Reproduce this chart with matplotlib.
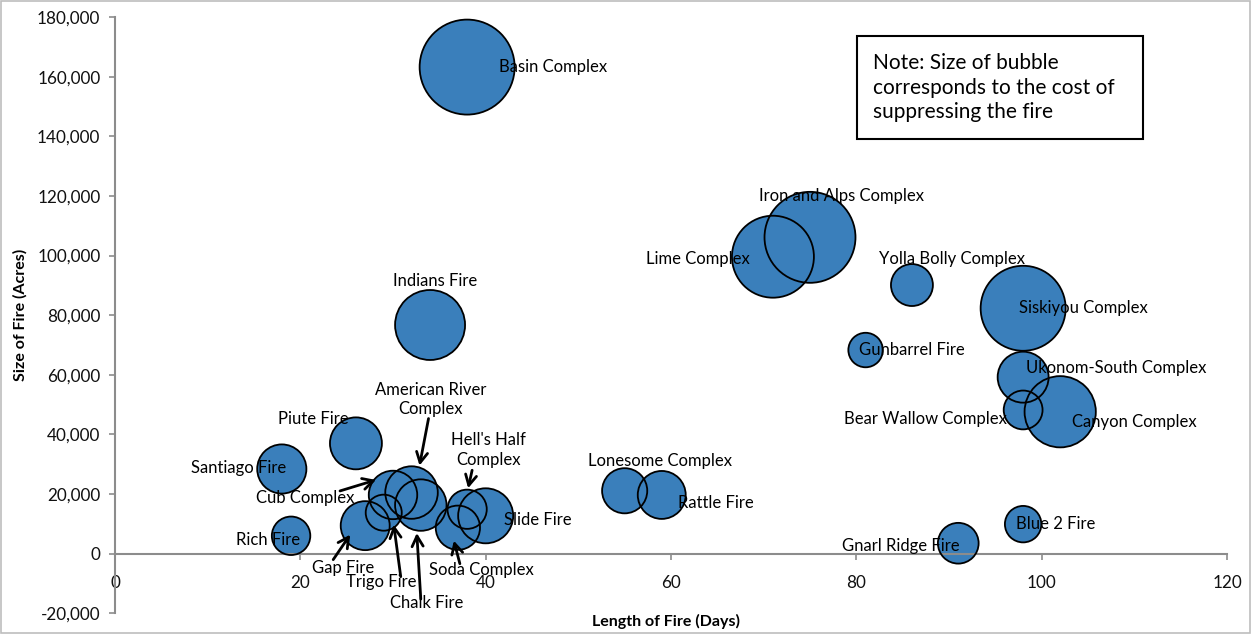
import numpy as np
import matplotlib
matplotlib.use("Agg")
import matplotlib.pyplot as plt
from matplotlib.transforms import offset_copy
from matplotlib.ticker import FuncFormatter
from matplotlib.patches import Rectangle

plt.rcParams['font.family'] = ['Lato', 'DejaVu Sans']

# fire data
names = ["Basin Complex", "Indians Fire", "Iron and Alps Complex", "Lime Complex",
         "Yolla Bolly Complex", "Siskiyou Complex", "Gunbarrel Fire",
         "Ukonom-South Complex", "Bear Wallow Complex", "Canyon Complex",
         "Lonesome Complex", "Rattle Fire", "Blue 2 Fire", "Gnarl Ridge Fire",
         "Piute Fire", "Santiago Fire", "Rich Fire", "Gap Fire", "Cub Complex",
         "Trigo Fire", "American River\nComplex", "Chalk Fire",
         "Hell's Half\nComplex", "Slide Fire", "Soda Complex"]
days = [38, 34, 75, 71, 86, 98, 81, 98, 98, 102, 55, 59, 98, 91,
        26, 18, 19, 27, 30, 29, 32, 33, 38, 40, 37]
acres = [163200, 76700, 106100, 99600, 90100, 82300, 68300, 59200, 48200, 47600,
         21100, 19700, 9900, 3500, 37000, 28400, 6000, 9400, 19700, 13750,
         20500, 16300, 14900, 12700, 8700]
# relative suppression cost (bubble area)
cost = [90.3, 49.0, 82.8, 67.2, 17.6, 72.3, 11.9, 26.0, 15.1, 50.8,
        20.4, 23.0, 13.3, 16.6, 27.0, 24.2, 14.8, 24.0, 23.5, 13.0,
        27.6, 26.5, 15.4, 30.3, 19.6]

xticks = [0, 20, 40, 60, 80, 100, 120]
yticks = list(range(-20000, 180001, 20000))

# label placement, pixels from bubble centre (right, down)
lab_off = {
    "Basin Complex": (86, 0), "Indians Fire": (5, -44),
    "Iron and Alps Complex": (32, -41), "Lime Complex": (-75, 2),
    "Yolla Bolly Complex": (40, -26), "Siskiyou Complex": (60, 0),
    "Gunbarrel Fire": (46, 0), "Ukonom-South Complex": (93, -9),
    "Bear Wallow Complex": (-98, 9), "Canyon Complex": (74, 10),
    "Lonesome Complex": (35, -30), "Rattle Fire": (54, 8),
    "Blue 2 Fire": (33, 0), "Gnarl Ridge Fire": (-57, 3),
    "Piute Fire": (-43, -24), "Santiago Fire": (-43, -1),
    "Rich Fire": (-23, 4), "Slide Fire": (52, 4),
    "American River\nComplex": (19, -93), "Hell's Half\nComplex": (21, -59),
    "Cub Complex": (-88, 3), "Gap Fire": (-22, 42), "Trigo Fire": (-2, 69),
    "Chalk Fire": (6, 98), "Soda Complex": (24, 42),
}
# arrows: tail and head, pixels from bubble centre
arrows = {
    "American River\nComplex": ((17, -74), (8, -27)),
    "Hell's Half\nComplex": ((5, -39), (1, -21)),
    "Cub Complex": ((-53, -4), (-17, -15)),
    "Gap Fire": ((-32, 34), (-15, 9)),
    "Trigo Fire": ((17, 64), (10, 12)),
    "Chalk Fire": ((0, 94), (-4, 28)),
    "Soda Complex": ((2, 36), (-4, 13)),
}

W, H = 1251, 634
fig = plt.figure(figsize=(W / 100, H / 100), dpi=100)
ax = fig.add_axes([115 / W, 1 - 613.3 / H, 1112 / W, 596.3 / H])

c = np.array(cost)
s = (95 * 0.72) ** 2 * c / c.max()
ax.scatter(days, acres, s=s, color='#3a7fbb', edgecolors='none', zorder=2)
ax.scatter(days, acres, s=s, facecolors='none', edgecolors='black', linewidths=1.3, zorder=3)

for n, x, y in zip(names, days, acres):
    dx, dy = lab_off[n]
    ax.annotate(n, (x, y), xytext=(dx, -dy), textcoords='offset pixels',
                ha='center', va='center', fontsize=12, linespacing=1.3,
                multialignment='center', zorder=4)
    if n in arrows:
        (tx, ty), (hx, hy) = arrows[n]
        ax.annotate('', xy=(x, y),
                    xycoords=offset_copy(ax.transData, fig=fig, x=hx, y=-hy, units='dots'),
                    xytext=(x, y),
                    textcoords=offset_copy(ax.transData, fig=fig, x=tx, y=-ty, units='dots'),
                    arrowprops=dict(arrowstyle='->,head_length=0.75,head_width=0.4',
                                    lw=2.0, color='black', shrinkA=0, shrinkB=0),
                    zorder=5)

ax.set_xlim(0, 120)
ax.set_ylim(-20000, 180000)
ax.set_xticks(xticks)
ax.set_yticks(yticks)
ax.yaxis.set_major_formatter(FuncFormatter(lambda v, p: f"{int(v):,}"))
for sp in ['top', 'right']:
    ax.spines[sp].set_visible(False)
ax.spines['bottom'].set_position(('data', 0))
for sp in ['left', 'bottom']:
    ax.spines[sp].set_color('#8c8c8c')
    ax.spines[sp].set_linewidth(1.5)
ax.tick_params(axis='both', direction='out', length=4.5, width=1.2, color='#8c8c8c',
               labelsize=12.3, labelcolor='#111111')
ax.tick_params(axis='x', pad=11)
ax.tick_params(axis='y', pad=6)
ax.patch.set_visible(False)

fig.text(666 / W, 1 - 621.5 / H, "Length of Fire (Days)", ha='center', va='center',
         fontsize=11.5, fontweight='bold')
fig.text(20 / W, 1 - 315 / H, "Size of Fire (Acres)", ha='center', va='center',
         rotation=90, fontsize=11.5, fontweight='bold')

# note box
fig.patches.append(Rectangle((857 / W, 1 - 139 / H), 286 / W, 103 / H, transform=fig.transFigure,
                             facecolor='white', edgecolor='black', linewidth=1.5, zorder=6))
fig.text(873 / W, 1 - 87.5 / H, "Note: Size of bubble\ncorresponds to the cost of\nsuppressing the fire",
         ha='left', va='center', fontsize=15, linespacing=1.3, zorder=7)

# chart frame
fig.patches.append(Rectangle((0.5 / W, 1 / H), 1249.5 / W, 632.5 / H, transform=fig.transFigure,
                             facecolor='none', edgecolor='#bdbdbd', linewidth=1.2))

fig.savefig('out.png', dpi=100)
